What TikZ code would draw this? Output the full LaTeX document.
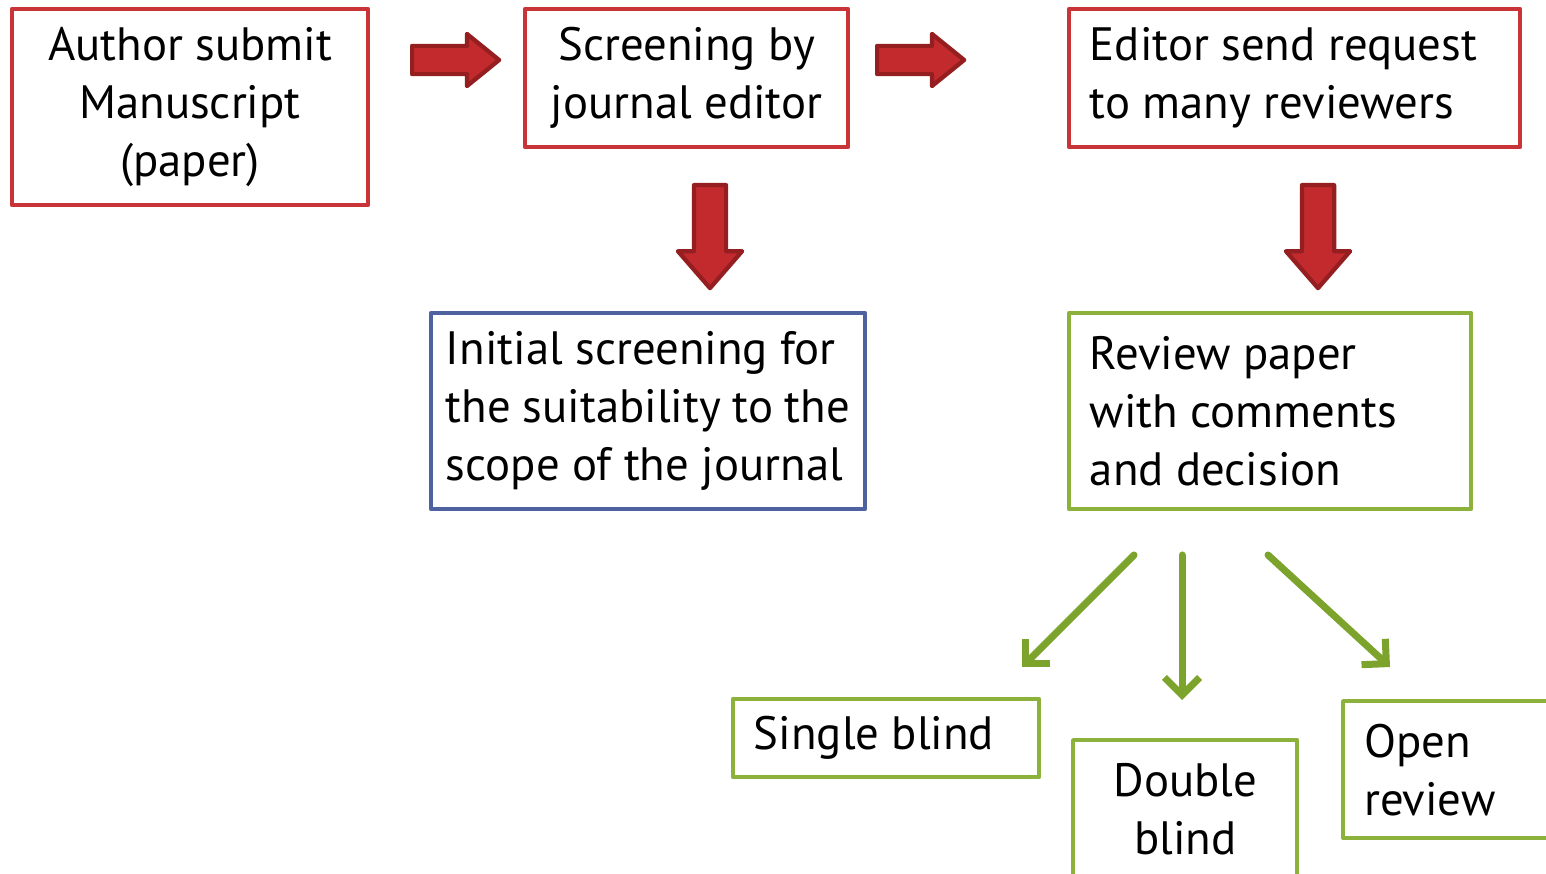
\documentclass[tikz,border=0pt]{standalone}
\usepackage{fontspec}
\setmainfont{PT Sans}
\usetikzlibrary{shapes.arrows,arrows.meta}
\definecolor{boxred}{RGB}{200,52,56}
\definecolor{boxblue}{RGB}{79,98,160}
\definecolor{boxgreen}{RGB}{140,178,60}
\definecolor{arrowred}{RGB}{194,42,46}
\definecolor{arrowdark}{RGB}{148,30,32}
\definecolor{arrowgreen}{RGB}{124,164,44}
\begin{document}
\begin{tikzpicture}[x=.01cm, y=-.01cm, font=\fontsize{13.3}{16.5}\selectfont, line join=round, line cap=round,
	box/.style={draw, line width=1.2pt, inner sep=0pt, inner xsep=.21cm},
	redbox/.style={box, draw=boxred},
	bluebox/.style={box, draw=boxblue},
	greenbox/.style={box, draw=boxgreen},
	blockarrow/.style={single arrow, draw=arrowdark, fill=arrowred, line width=1.2pt},
	greenarrow/.style={draw=arrowgreen, line width=2pt, -{Straight Barb[length=5pt, width=10pt, line width=2pt]}}]
	\clip (0,0) rectangle (1546,873);
	\node[redbox, minimum width=3.56cm, minimum height=1.96cm, align=center] (author) at (190,107) {Author submit\\Manuscript\\(paper)};
	\node[redbox, minimum width=3.23cm, minimum height=1.38cm, align=center] (editor) at (686.5,78) {Screening by\\journal editor};
	\node[redbox, text width=4.09cm, minimum height=1.38cm, align=flush left] (request) at (1294.5,78) {Editor send request\\to many reviewers};
	\node[bluebox, inner xsep=.15cm, text width=4.04cm, minimum height=1.96cm, align=flush left] (scope) at (648,411) {Initial screening for\\the suitability to the\\scope of the journal};
	\node[greenbox, text width=3.60cm, minimum height=1.96cm, align=flush left] (review) at (1270,411) {Review paper\\with comments\\and decision};
	\node[greenbox, text width=2.64cm, minimum height=.78cm, align=flush left] (single) at (886,738) {Single blind};
	\node[greenbox, minimum width=2.24cm, minimum height=1.38cm, align=center, anchor=north west] (double) at (1071,738) {Double\\blind};
	\node[greenbox, text width=2.60cm, minimum height=1.37cm, align=flush left, anchor=north west] (open) at (1341,699) {Open\\review};
	\node[blockarrow, inner sep=.12cm, minimum height=.87cm, single arrow head extend=.12cm, single arrow tip angle=78, anchor=tail] (r1) at (410,60) {};
	\node[blockarrow, inner sep=.12cm, minimum height=.87cm, single arrow head extend=.12cm, single arrow tip angle=78, anchor=tail] (r2) at (875,60) {};
	\node[blockarrow, inner sep=.14cm, minimum height=1.03cm, single arrow head extend=.16cm, single arrow tip angle=82, shape border rotate=270, anchor=tail] (d1) at (710,183) {};
	\node[blockarrow, inner sep=.14cm, minimum height=1.03cm, single arrow head extend=.16cm, single arrow tip angle=82, shape border rotate=270, anchor=tail] (d2) at (1318,183) {};
	\path
	(1134,555) coordinate (s1)
	(1022,667) coordinate (e1)
	(1182,555) coordinate (s2)
	(1182,700) coordinate (e2)
	(1268,555) coordinate (s3)
	(1390,667) coordinate (e3)
	;
	\foreach \i in {1,2,3}
	\draw[greenarrow] (s\i)--(e\i);
\end{tikzpicture}
\end{document}
